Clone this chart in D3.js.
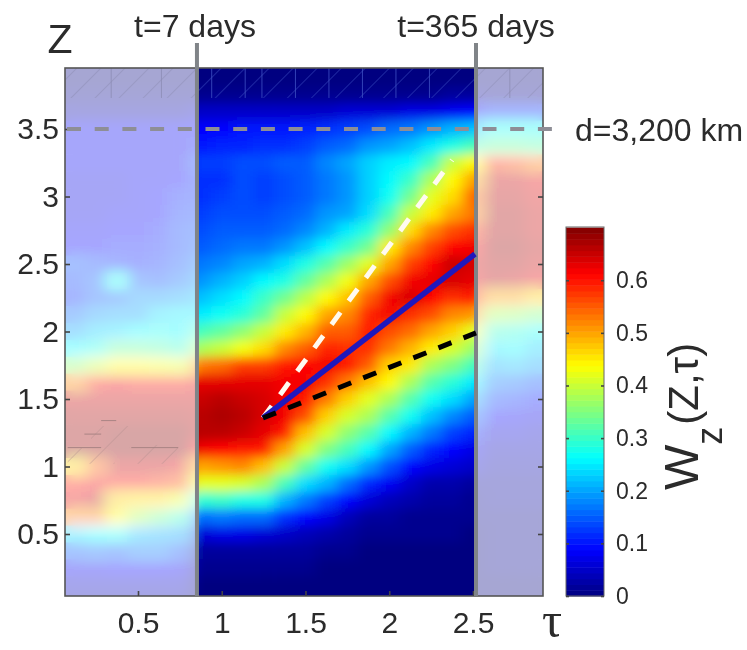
<!doctype HTML>
<html>
<head>
    <script src="https://d3js.org/d3.v7.min.js"></script>
    <style>
        body { margin: 0; background: #fff; }
        svg { filter: blur(0.45px); }
        text { font-family: "Liberation Sans", sans-serif; fill: #2b2b2b; }
        .domain { display: none; }
    </style>
</head>
<body>
<script>
    var canvasWidth = 747;
    var canvasHeight = 650;

    var tauValues = [0.125, 0.25, 0.375, 0.5, 0.625, 0.75, 0.875, 1, 1.125, 1.25, 1.375, 1.5,
        1.625, 1.75, 1.875, 2, 2.125, 2.25, 2.375, 2.5, 2.625, 2.75, 2.875];
    var zValues = [4, 3.875, 3.75, 3.625, 3.5, 3.375, 3.25, 3.125, 3, 2.875, 2.75, 2.625, 2.5, 2.375, 2.25,
        2.125, 2, 1.875, 1.75, 1.625, 1.5, 1.375, 1.25, 1.125, 1, 0.875, 0.75, 0.625, 0.5, 0.375, 0.25, 0.125, 0];

    // one list per tau column, top (z=4) to bottom (z=0)
    var wzColumns = [
        [0,0,.01,.03,.08,.08,.08,.07,.07,.07,.08,.09,.14,.13,.12,.16,.20,.26,.36,.52,.65,.67,.68,.68,.47,.60,.63,.52,.24,.15,.08,.05,.03],
        [0,0,.01,.03,.08,.08,.08,.07,.07,.07,.08,.09,.13,.15,.15,.19,.23,.28,.40,.60,.65,.67,.68,.68,.55,.62,.65,.52,.26,.16,.08,.05,.03],
        [0,0,.01,.03,.08,.08,.08,.07,.07,.08,.09,.10,.12,.27,.16,.20,.24,.33,.44,.62,.65,.67,.69,.69,.65,.60,.47,.44,.27,.15,.09,.05,.03],
        [0,0,.01,.03,.08,.08,.08,.08,.08,.08,.09,.10,.11,.15,.19,.20,.26,.33,.44,.60,.65,.67,.69,.69,.65,.60,.46,.38,.22,.17,.09,.05,.03],
        [0,0,.01,.03,.08,.08,.08,.08,.09,.09,.10,.11,.12,.14,.19,.24,.27,.32,.43,.60,.65,.67,.69,.69,.65,.58,.46,.34,.21,.17,.09,.05,.03],
        [0,0,.01,.03,.08,.08,.08,.09,.11,.12,.13,.13,.14,.16,.20,.25,.26,.30,.42,.60,.65,.67,.69,.69,.63,.56,.42,.30,.20,.14,.08,.05,.03],
        [0,0,.01,.05,.09,.10,.13,.12,.12,.13,.14,.15,.17,.19,.22,.25,.31,.38,.53,.63,.65,.66,.66,.62,.50,.42,.29,.16,.06,.02,.01,0,0],
        [0,0,.01,.05,.09,.11,.13,.12,.13,.14,.15,.16,.18,.21,.24,.27,.33,.40,.54,.63,.66,.67,.66,.61,.51,.42,.30,.17,.07,.02,.01,0,0],
        [0,0,.01,.05,.10,.11,.14,.14,.14,.14,.15,.17,.20,.23,.26,.29,.36,.43,.57,.63,.65,.66,.65,.60,.52,.41,.28,.16,.07,.02,.01,0,0],
        [0,0,.01,.05,.10,.12,.14,.13,.13,.14,.15,.17,.21,.26,.30,.33,.40,.46,.57,.63,.64,.64,.63,.60,.48,.38,.28,.16,.06,.02,.01,0,0],
        [0,0,.01,.05,.10,.12,.15,.14,.14,.15,.16,.19,.24,.28,.34,.40,.45,.52,.60,.62,.62,.62,.60,.50,.40,.31,.21,.12,.05,.02,.01,0,0],
        [0,0,.01,.05,.11,.13,.15,.15,.15,.16,.18,.22,.28,.33,.39,.44,.49,.55,.61,.62,.60,.56,.48,.41,.33,.24,.17,.09,.04,.02,.01,0,0],
        [0,0,.01,.05,.12,.15,.18,.17,.17,.19,.21,.26,.32,.38,.44,.50,.55,.59,.62,.58,.53,.47,.41,.35,.27,.21,.13,.07,.03,.01,0,0,0],
        [0,0,.01,.06,.13,.16,.20,.19,.19,.20,.25,.30,.37,.43,.48,.52,.55,.58,.60,.53,.47,.41,.36,.31,.24,.16,.09,.04,.02,.01,0,0,0],
        [0,0,.01,.06,.14,.19,.23,.23,.23,.24,.29,.34,.42,.50,.55,.59,.60,.58,.55,.48,.42,.38,.32,.26,.19,.11,.06,.02,.01,0,0,0,0],
        [0,0,.01,.06,.16,.20,.25,.26,.27,.31,.36,.45,.50,.56,.62,.62,.56,.53,.47,.44,.38,.32,.26,.20,.14,.08,.04,.02,.01,0,0,0,0],
        [0,0,.01,.07,.17,.22,.26,.30,.34,.40,.46,.52,.57,.62,.64,.58,.54,.49,.45,.38,.32,.27,.21,.15,.09,.05,.03,.01,.01,0,0,0,0],
        [0,0,.01,.07,.19,.25,.31,.38,.42,.45,.52,.57,.61,.63,.61,.56,.50,.45,.38,.32,.27,.22,.17,.11,.07,.03,.02,.01,.01,0,0,0,0],
        [0,0,.02,.08,.21,.28,.40,.44,.46,.50,.56,.61,.65,.64,.58,.52,.47,.41,.35,.29,.24,.18,.13,.09,.06,.03,.02,.01,.01,0,0,0,0],
        [0,0,.02,.09,.22,.31,.44,.50,.54,.53,.58,.62,.64,.63,.60,.51,.42,.37,.31,.25,.20,.15,.11,.07,.05,.02,.01,.01,0,0,0,0,0],
        [0,0,.01,.12,.27,.33,.58,.65,.66,.67,.67,.68,.67,.66,.50,.38,.30,.25,.21,.17,.13,.09,.06,.04,.03,.02,.02,.01,.01,.01,.01,0,0],
        [0,0,.01,.12,.27,.33,.56,.65,.66,.67,.67,.68,.67,.65,.50,.37,.29,.26,.22,.16,.12,.08,.06,.04,.03,.02,.02,.01,.01,.01,.01,0,0],
        [0,0,.01,.12,.27,.32,.53,.63,.64,.65,.65,.66,.65,.63,.47,.35,.27,.23,.20,.14,.10,.07,.05,.04,.03,.02,.02,.01,.01,.01,.01,0,0]
    ];

    var tauTicks = [0.5, 1, 1.5, 2, 2.5];
    var zTicks = [0.5, 1, 1.5, 2, 2.5, 3, 3.5];
    var barTicks = [0, 0.1, 0.2, 0.3, 0.4, 0.5, 0.6];

    var jetStops = [0, 0.0875, 0.2625, 0.4375, 0.6125, 0.7];
    var jetColors = ["#000080", "#0000ff", "#00ffff", "#ffff00", "#ff0000", "#800000"];

    var tauEarly = 0.852;   // t=7 days
    var tauLate = 2.518;    // t=365 days
    var zDepth = 3.5;       // d=3,200 km

    var startPoint = [1.246, 1.359];
    var blueEnd = [2.512, 2.574];
    var whiteEnd = [2.375, 3.27];
    var blackEnd = [2.518, 1.99];

    // small vertical strokes of the hatching at the top of the map
    var hatchTaus = [0.34, 0.64, 0.94, 1.14, 1.24, 1.44, 1.64, 1.84, 2.04, 2.24, 2.72];
    // hatched patches in the left band: tau0, tau1, z0, z1
    var lowHatchBoxes = [[0.08, 0.36, 1.02, 1.14], [0.22, 0.45, 1.14, 1.3], [0.48, 0.74, 1.02, 1.16]];
    // horizontal edges of those patches: tau0, tau1, z
    var lowHatchRows = [[0.08, 0.28, 1.14], [0.18, 0.28, 1.24], [0.28, 0.37, 1.34], [0.46, 0.74, 1.14]];

    var plot = {left: 65, right: 543, top: 68, bottom: 596};
    var bar = {left: 566, right: 604, top: 227, bottom: 596};

    var svg = d3.select("body").append("svg")
        .attr("width", canvasWidth)
        .attr("height", canvasHeight);

    var xScale = d3.scaleLinear().domain([0.0642, 2.918]).range([plot.left, plot.right]);
    var yScale = d3.scaleLinear().domain([3.952, 0.0407]).range([plot.top, plot.bottom]);
    var colorScale = d3.scaleLinear().domain(jetStops).range(jetColors);
    var barScale = d3.scaleLinear().domain([0, 0.7]).range([bar.bottom, bar.top + 0.6]);

    var defs = svg.append("defs");
    defs.append("clipPath").attr("id", "plotClip").append("rect")
        .attr("x", plot.left).attr("y", plot.top)
        .attr("width", plot.right - plot.left).attr("height", plot.bottom - plot.top);
    defs.append("filter").attr("id", "soft")
        .attr("filterUnits", "userSpaceOnUse")
        .attr("x", 0).attr("y", 0).attr("width", canvasWidth).attr("height", canvasHeight)
        .append("feGaussianBlur").attr("stdDeviation", "7 5.5");

    function addHatch(id, color) {
        var hatch = defs.append("pattern").attr("id", id)
            .attr("patternUnits", "userSpaceOnUse")
            .attr("width", 17).attr("height", 17)
            .attr("patternTransform", "rotate(45)");
        hatch.append("line")
            .attr("x1", 0).attr("x2", 0).attr("y1", 0).attr("y2", 17)
            .attr("stroke", color).attr("stroke-width", 1.6);
    }
    addHatch("hatchDark", "#3f52c4");
    addHatch("hatchGrey", "#8c8cb4");
    addHatch("hatchBrown", "#b08c8c");

    // flatten columns into cells
    var cells = [];
    wzColumns.forEach(function(col, i) {
        col.forEach(function(v, j) {
            cells.push({tau: tauValues[i], z: zValues[j], value: v});
        });
    });

    function drawCells(g) {
        var dTau = tauValues[1] - tauValues[0];
        var dZ = zValues[0] - zValues[1];
        g.selectAll("rect")
            .data(cells)
            .enter().append("rect")
            .attr("x", function(d) { return xScale(d.tau - dTau / 2); })
            .attr("y", function(d) { return yScale(d.z + dZ / 2); })
            .attr("width", xScale(dTau) - xScale(0) + 0.5)
            .attr("height", yScale(0) - yScale(dZ) + 0.5)
            .attr("fill", function(d) { return colorScale(d.value); });
    }

    var map = svg.append("g").attr("clip-path", "url(#plotClip)");
    map.append("g").call(drawCells);
    map.append("g").attr("filter", "url(#soft)").call(drawCells);

    // hatching over the top band, faint inside the map, grey on the washed parts
    function hatchRegion(t0, t1, fill) {
        map.append("rect")
            .attr("x", xScale(t0)).attr("y", plot.top)
            .attr("width", xScale(t1) - xScale(t0)).attr("height", yScale(3.73) - plot.top)
            .attr("fill", "url(#" + fill + ")").attr("opacity", 0.6);
    }
    hatchRegion(tauEarly, tauLate, "hatchDark");

    // washed out regions outside the two time limits
    map.append("rect")
        .attr("x", plot.left).attr("y", plot.top)
        .attr("width", xScale(tauEarly) - plot.left).attr("height", plot.bottom - plot.top)
        .attr("fill", "#ffffff").attr("opacity", 0.65);
    map.append("rect")
        .attr("x", xScale(tauLate)).attr("y", plot.top)
        .attr("width", plot.right - xScale(tauLate)).attr("height", plot.bottom - plot.top)
        .attr("fill", "#ffffff").attr("opacity", 0.65);

    hatchRegion(0, tauEarly, "hatchGrey");
    hatchRegion(tauLate, 3, "hatchGrey");
    map.selectAll(".hatchStroke")
        .data(hatchTaus)
        .enter().append("line")
        .attr("class", "hatchStroke")
        .attr("x1", function(d) { return xScale(d); })
        .attr("x2", function(d) { return xScale(d); })
        .attr("y1", plot.top)
        .attr("y2", yScale(3.73))
        .attr("stroke", function(d) { return d < tauEarly || d > tauLate ? "#8c8cb4" : "#3f52c4"; })
        .attr("stroke-width", 1).attr("opacity", 0.8);

    map.selectAll(".lowBox")
        .data(lowHatchBoxes)
        .enter().append("rect")
        .attr("class", "lowBox")
        .attr("x", function(d) { return xScale(d[0]); })
        .attr("y", function(d) { return yScale(d[3]); })
        .attr("width", function(d) { return xScale(d[1]) - xScale(d[0]); })
        .attr("height", function(d) { return yScale(d[2]) - yScale(d[3]); })
        .attr("fill", "url(#hatchBrown)").attr("opacity", 0.5);
    map.selectAll(".lowRow")
        .data(lowHatchRows)
        .enter().append("line")
        .attr("class", "lowRow")
        .attr("x1", function(d) { return xScale(d[0]); })
        .attr("x2", function(d) { return xScale(d[1]); })
        .attr("y1", function(d) { return yScale(d[2]); })
        .attr("y2", function(d) { return yScale(d[2]); })
        .attr("stroke", "#a98484").attr("stroke-width", 1);

    // frame and axes
    svg.append("rect")
        .attr("x", plot.left).attr("y", plot.top)
        .attr("width", plot.right - plot.left).attr("height", plot.bottom - plot.top)
        .attr("fill", "none").attr("stroke", "#555").attr("stroke-width", 1.6);

    svg.append("g")
        .attr("transform", "translate(0," + plot.bottom + ")")
        .call(d3.axisBottom(xScale).tickValues(tauTicks).tickSize(-5).tickPadding(16).tickFormat(d3.format("")))
        .call(styleAxis, 30);
    svg.append("g")
        .attr("transform", "translate(" + plot.left + ",0)")
        .call(d3.axisLeft(yScale).tickValues(zTicks).tickSize(-5).tickPadding(6).tickFormat(d3.format("")))
        .call(styleAxis, 30);
    svg.append("g")
        .attr("transform", "translate(" + plot.right + ",0)")
        .call(d3.axisRight(yScale).tickValues(zTicks).tickSize(-5).tickFormat(""))
        .call(styleAxis, 30);

    function styleAxis(g, size) {
        g.selectAll("text").attr("font-size", size + "px").style("font-family", "Liberation Sans");
        g.selectAll(".tick line").attr("stroke", "#444").attr("stroke-width", 1.6);
    }

    // time limits, depth line
    svg.selectAll(".limit")
        .data([tauEarly, tauLate])
        .enter().append("line")
        .attr("class", "limit")
        .attr("x1", function(d) { return xScale(d); })
        .attr("x2", function(d) { return xScale(d); })
        .attr("y1", 43)
        .attr("y2", plot.bottom)
        .attr("stroke", "#808488").attr("stroke-width", 4);

    svg.append("line")
        .attr("x1", xScale.range()[0] + 2).attr("x2", 553)
        .attr("y1", yScale(zDepth)).attr("y2", yScale(zDepth))
        .attr("stroke", "#8e8e96").attr("stroke-width", 4)
        .attr("stroke-dasharray", "14,13.7");

    // fits from the start point
    function fitLine(end, color, width, dash) {
        svg.append("line")
            .attr("x1", xScale(startPoint[0])).attr("y1", yScale(startPoint[1]))
            .attr("x2", xScale(end[0])).attr("y2", yScale(end[1]))
            .attr("stroke", color).attr("stroke-width", width)
            .attr("stroke-dasharray", dash);
    }
    fitLine(whiteEnd, "#fffaf0", 5, "15,14");
    fitLine(blueEnd, "#2018bc", 5.5, null);
    fitLine(blackEnd, "#000", 5, "14,13");

    // colour bar
    var barCells = d3.range(64);
    svg.append("g").selectAll("rect")
        .data(barCells)
        .enter().append("rect")
        .attr("x", bar.left)
        .attr("y", function(d) { return barScale((d + 1) / 64 * 0.7); })
        .attr("width", bar.right - bar.left)
        .attr("height", barScale(0) - barScale(0.7 / 64) + 0.5)
        .attr("fill", function(d) { return colorScale((d + 0.5) / 64 * 0.7); });
    svg.append("rect")
        .attr("x", bar.left).attr("y", bar.top)
        .attr("width", bar.right - bar.left).attr("height", bar.bottom - bar.top)
        .attr("fill", "none").attr("stroke", "#666").attr("stroke-width", 1);
    svg.append("g")
        .attr("transform", "translate(" + bar.right + ",0)")
        .call(d3.axisRight(barScale).tickValues(barTicks).tickSize(-3).tickPadding(12).tickFormat(d3.format("")))
        .call(styleAxis, 23);
    svg.append("g")
        .attr("transform", "translate(" + bar.left + ",0)")
        .call(d3.axisLeft(barScale).tickValues(barTicks).tickSize(-3).tickFormat(""))
        .call(styleAxis, 23);

    // labels
    function label(x, y, txt, size, anchor) {
        return svg.append("text")
            .attr("x", x).attr("y", y)
            .attr("font-size", size + "px")
            .attr("text-anchor", anchor || "middle")
            .text(txt);
    }
    label(195, 37, "t=7 days", 32);
    label(476, 37, "t=365 days", 32);
    label(575, 141, "d=3,200 km", 32, "start");
    label(60, 53, "Z", 41);
    label(552, 637, "τ", 50).style("font-family", "Liberation Serif");

    var title = svg.append("text")
        .attr("transform", "translate(698,490) rotate(-90)")
        .attr("font-size", "48px");
    title.append("tspan").text("W");
    title.append("tspan").attr("font-size", "36px").attr("dy", 24).text("z");
    title.append("tspan").attr("font-size", "42px").attr("dy", -24).attr("dx", 2).text("(Z,τ)");
</script>
</body>
</html>
